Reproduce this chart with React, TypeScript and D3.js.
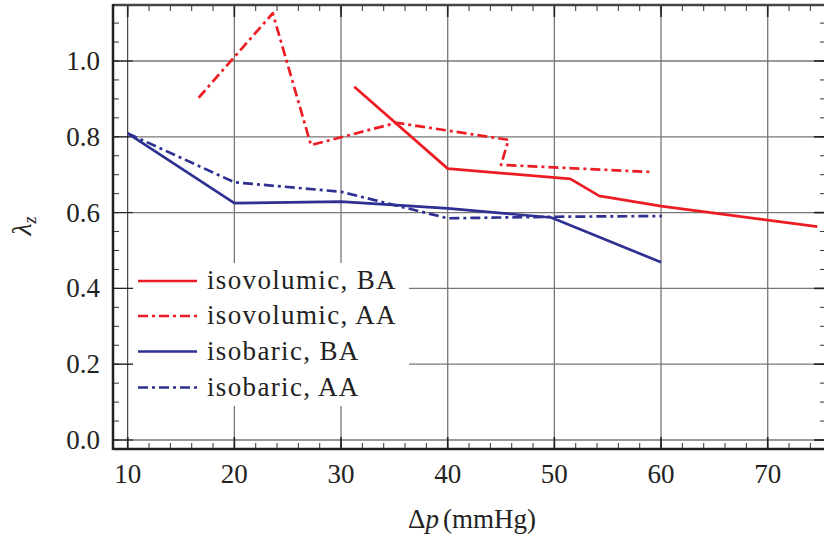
import React from "react";
import * as d3 from "d3";

type Pt = [number, number];

const isovolumicBA: Pt[] = [
  [31.24, 0.932], [40.0, 0.716], [51.5, 0.689], [54.2, 0.644], [60.0, 0.617], [74.65, 0.563],
];
const isovolumicAA: Pt[] = [
  [16.65, 0.903], [23.6, 1.126], [27.18, 0.778], [35.2, 0.837], [45.7, 0.792], [45.0, 0.726], [59.2, 0.707],
];
const isobaricBA: Pt[] = [
  [10, 0.809], [20, 0.625], [30, 0.629], [40, 0.611], [49.7, 0.587], [60, 0.469],
];
const isobaricAA: Pt[] = [
  [10, 0.809], [20, 0.680], [30, 0.655], [40, 0.585], [50, 0.589], [60.1, 0.591],
];

const seriesNames = ["isovolumic, BA", "isovolumic, AA", "isobaric, BA", "isobaric, AA"];
const seriesData = [isovolumicBA, isovolumicAA, isobaricBA, isobaricAA];
const seriesColors = ["#ed1c24", "#ed1c24", "#2e3192", "#2e3192"];
const seriesDash = [null, "10,4,3,4", null, "10,4,3,4"];

const xTicks = [10, 20, 30, 40, 50, 60, 70];
const yTicks = [0.0, 0.2, 0.4, 0.6, 0.8, 1.0];

const W = 824;
const H = 541;
const left = 113, right = 826, top = 5, bottom = 449;

const x = d3.scaleLinear().domain([10, 70]).range([127.7, 767.7]);
const y = d3.scaleLinear().domain([0, 1]).range([440, 61]);

const FONT = "Liberation Serif";

export default function App() {
  const line = d3.line<Pt>().x((d) => x(d[0])).y((d) => y(d[1]));
  const xMinor = d3.range(8, 76, 2).filter((v) => x(v) > left + 2 && x(v) < right - 2);
  const yMinor = d3.range(-0.0, 1.16, 0.05).map((v) => +v.toFixed(2)).filter((v) => y(v) > top + 2 && y(v) < bottom - 2);
  const legendY = [281, 316, 351.5, 387.5];
  return (
    <svg width={W} height={H} style={{ position: "absolute", left: 0, top: 0, background: "#fff" }}>
      <defs>
        <clipPath id="plot">
          <rect x={left} y={top} width={right - left} height={bottom - top} />
        </clipPath>
      </defs>
      <g>
        {yTicks.map((v) => (
          <line key={"gy" + v} x1={left} x2={right} y1={y(v)} y2={y(v)} stroke="#777" strokeWidth={1.3} />
        ))}
        {xTicks.map((v) => (
          <line key={"gx" + v} x1={x(v)} x2={x(v)} y1={top} y2={bottom} stroke={v === 10 ? "#222" : "#777"} strokeWidth={v === 10 ? 1 : 1.3} />
        ))}
      </g>
      <g stroke="#333" strokeWidth={1}>
        {xMinor.map((v) => (
          <g key={"xm" + v}>
            <line x1={x(v)} x2={x(v)} y1={bottom} y2={bottom - 6} />
            <line x1={x(v)} x2={x(v)} y1={top} y2={top + 6} />
          </g>
        ))}
        {yMinor.map((v) => (
          <g key={"ym" + v}>
            <line x1={left} x2={left + 6} y1={y(v)} y2={y(v)} />
            <line x1={right} x2={right - 6} y1={y(v)} y2={y(v)} />
          </g>
        ))}
      </g>
      <g stroke="#222" strokeWidth={1.6}>
        {xTicks.map((v) => (
          <g key={"xM" + v}>
            <line x1={x(v)} x2={x(v)} y1={bottom} y2={bottom - 12} />
            <line x1={x(v)} x2={x(v)} y1={top} y2={top + 12} />
          </g>
        ))}
        {yTicks.map((v) => (
          <g key={"yM" + v}>
            <line x1={left} x2={left + 20} y1={y(v)} y2={y(v)} strokeWidth={1.1} />
            <line x1={right} x2={right - 12} y1={y(v)} y2={y(v)} />
          </g>
        ))}
      </g>
      <rect x={133} y={263} width={276} height={143} fill="#fff" />
      <g clipPath="url(#plot)" fill="none">
        {seriesData.map((d, i) => (
          <path
            key={"s" + i}
            d={line(d) || ""}
            stroke={seriesColors[i]}
            strokeWidth={2.7}
            strokeDasharray={seriesDash[i] || undefined}
            strokeLinejoin="round"
          />
        ))}
      </g>
      <g>
        {seriesNames.map((n, i) => (
          <g key={"l" + i}>
            <line x1={138} x2={197} y1={legendY[i]} y2={legendY[i]} stroke={seriesColors[i]} strokeWidth={2.7} strokeDasharray={seriesDash[i] || undefined} />
            <text x={207} y={legendY[i] + 8} fontFamily={FONT} fontSize={27} letterSpacing={1.35} fill="#222">{n}</text>
          </g>
        ))}
      </g>
      <g fill="none">
        <line x1={left} x2={right} y1={top} y2={top} stroke="#444" strokeWidth={2.5} />
        <line x1={left} x2={right} y1={bottom} y2={bottom} stroke="#222" strokeWidth={2.5} />
        <line x1={left} x2={left} y1={top - 1} y2={bottom + 1} stroke="#222" strokeWidth={2.5} />
        <line x1={right} x2={right} y1={top} y2={bottom} stroke="#222" strokeWidth={2.5} />
      </g>
      <g fontFamily={FONT} fontSize={27} fill="#222">
        {xTicks.map((v) => (
          <text key={"xl" + v} x={x(v)} y={483} textAnchor="middle">{String(v)}</text>
        ))}
        {yTicks.map((v) => (
          <text key={"yl" + v} x={100} y={y(v) + 9} textAnchor="end">{v.toFixed(1)}</text>
        ))}
      </g>
      <text x={472} y={528} textAnchor="middle" fontFamily={FONT} fontSize={27} fill="#222">
        Δ<tspan fontStyle="italic">p</tspan>
        <tspan dx={4}>(mmHg)</tspan>
      </text>
      <text transform="translate(31,226) rotate(-90)" textAnchor="middle" fontFamily={FONT} fontSize={28} fill="#222">
        <tspan fontStyle="italic">λ</tspan>
        <tspan fontSize={18} fontStyle="italic" dy={5}>z</tspan>
      </text>
    </svg>
  );
}
